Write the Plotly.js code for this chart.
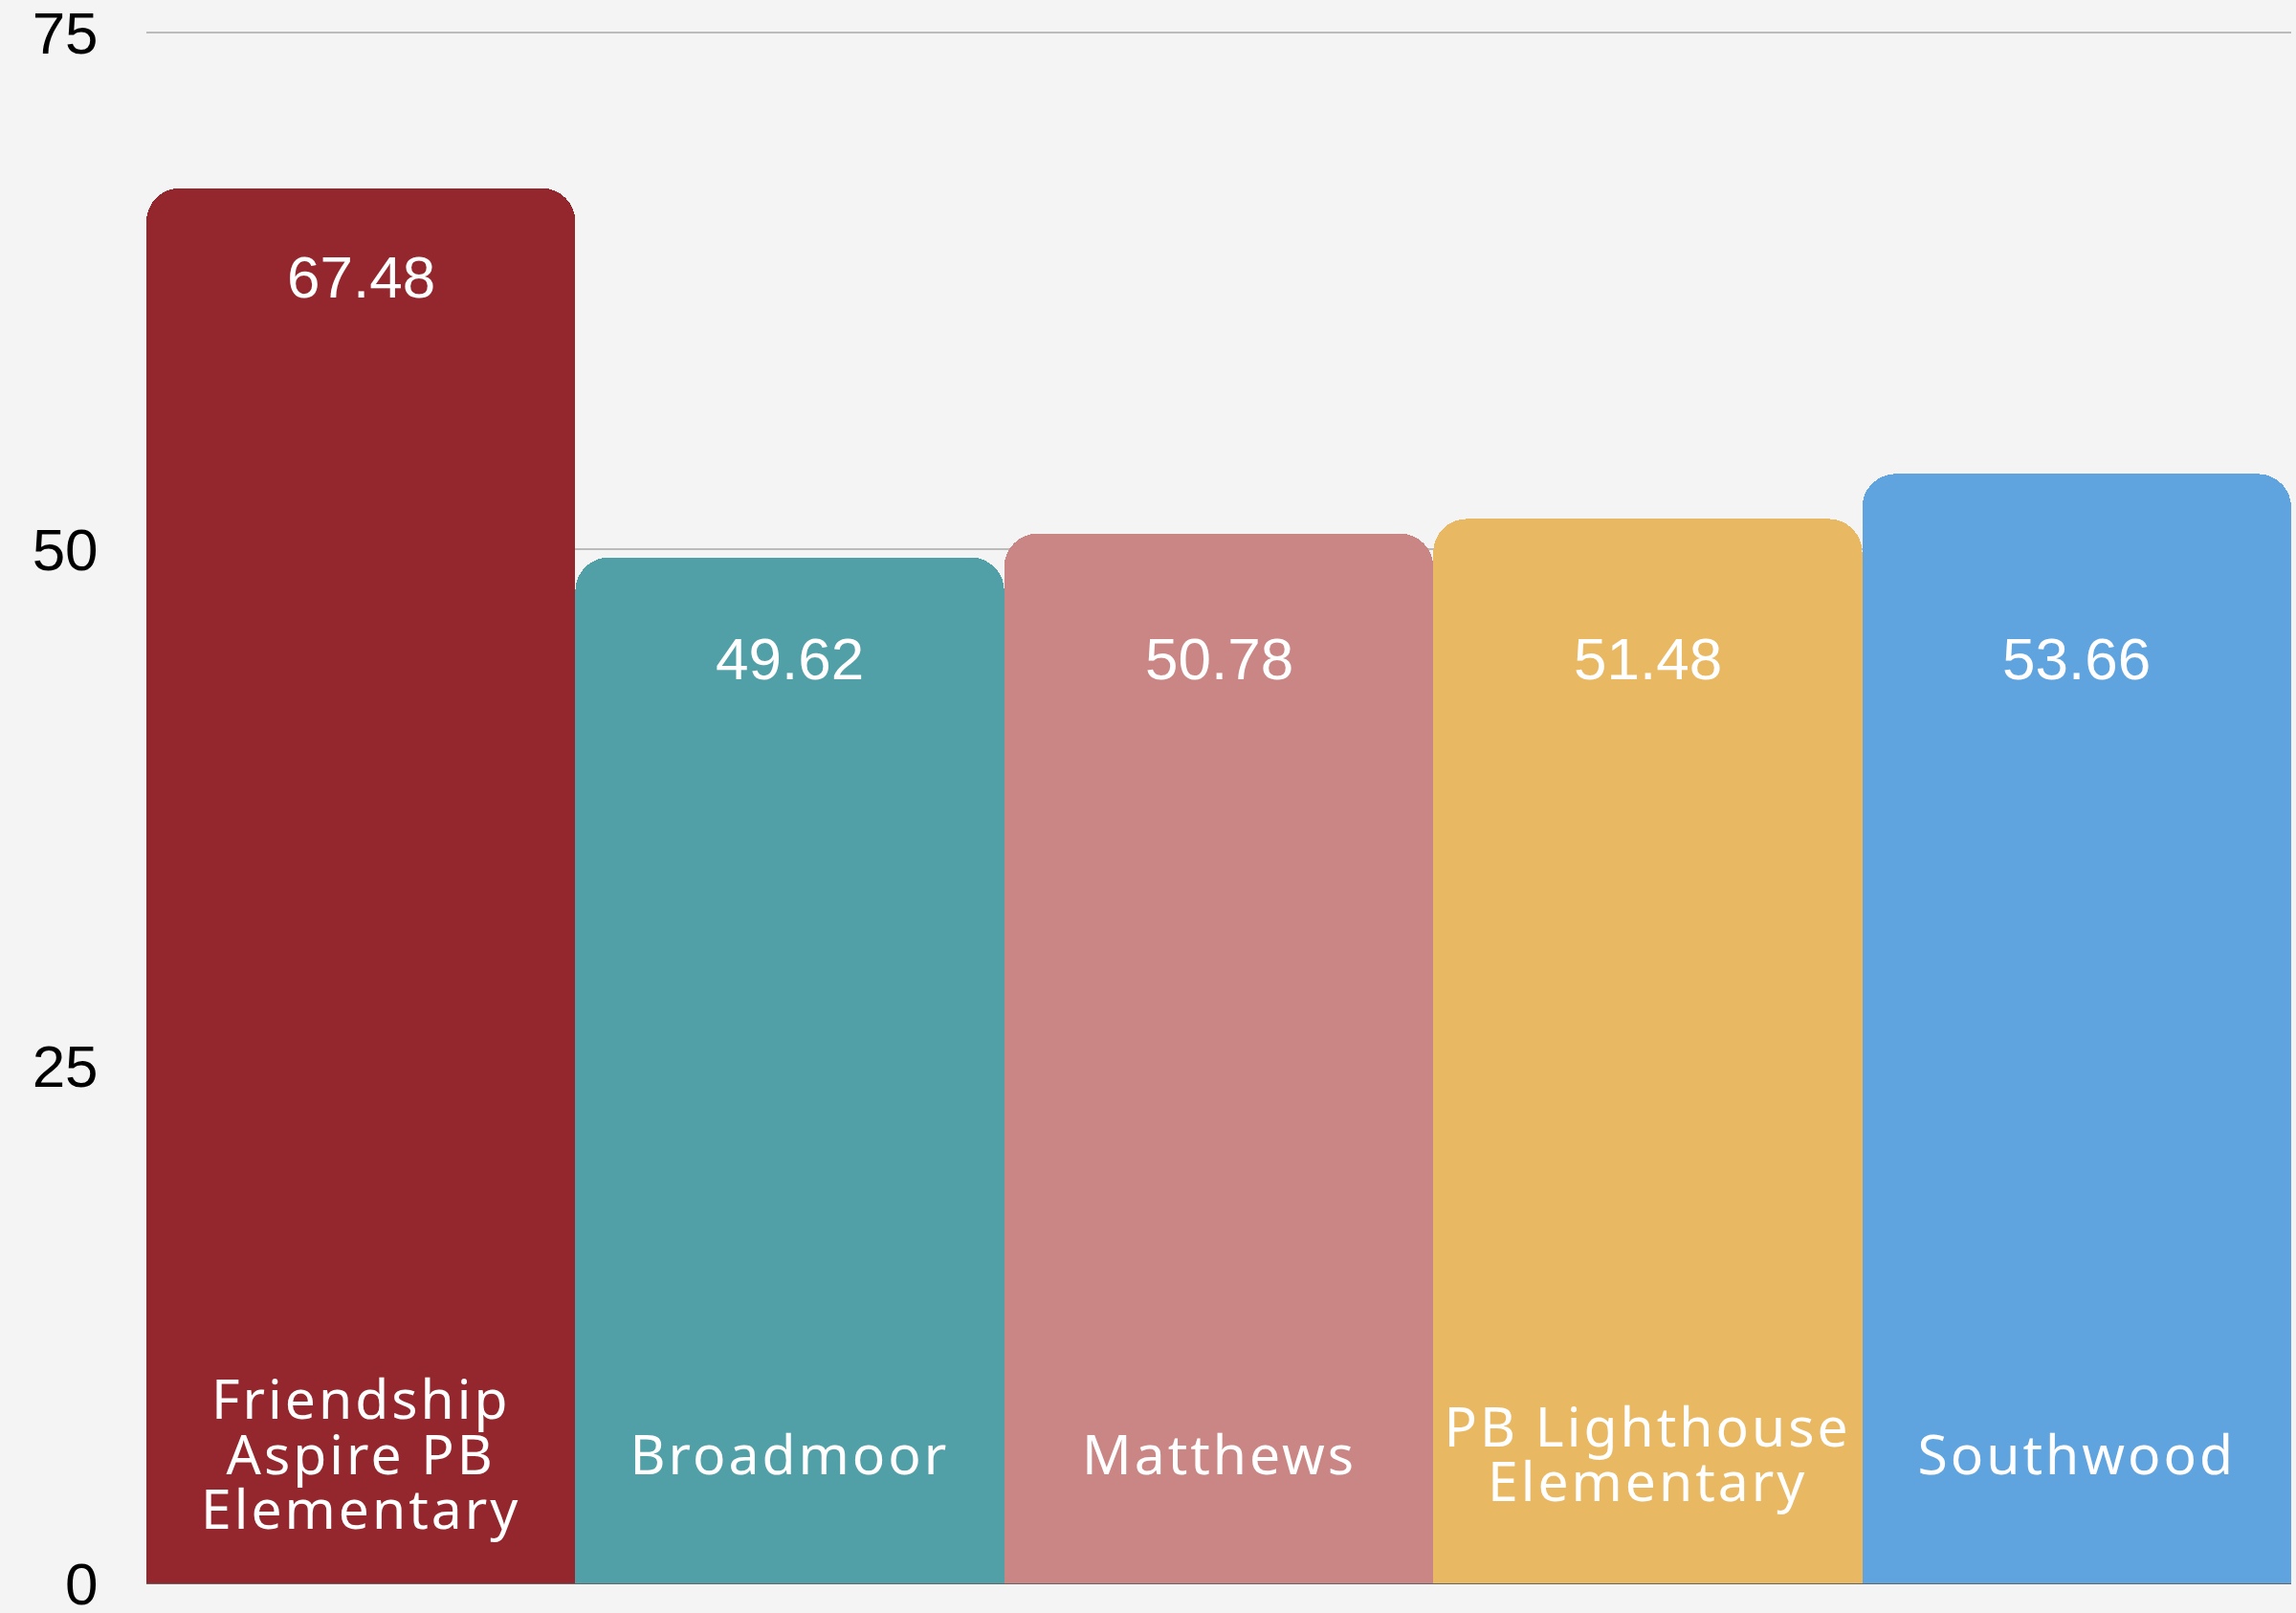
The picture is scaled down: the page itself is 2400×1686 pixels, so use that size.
<!DOCTYPE html>
<html>
<head>
<meta charset="utf-8">
<script src="https://cdn.plot.ly/plotly-3.0.1.min.js"></script>
<style>
  html, body { margin: 0; padding: 0; background: #f4f4f4; }
  #chart { width: 2400px; height: 1686px; }
</style>
</head>
<body>
<div id="chart"></div>
<script>
// ---- data ----
const schools = [
  "Friendship<br>Aspire PB<br>Elementary",
  "Broadmoor",
  "Matthews",
  "PB Lighthouse<br>Elementary",
  "Southwood"
];
const scores = [67.48, 49.62, 50.78, 51.48, 53.66];
const barColors = ["#93272d", "#519fa7", "#c98684", "#e8b862", "#5fa4df"];
const yTickValues = [0, 25, 50, 75];
const yTickLabels = ["0", "25", "50", "75"];

// ---- styling / layout rules ----
const valueFont = { family: "Liberation Sans, Arial, sans-serif", size: 62, color: "#ffffff" };
const catFont = { family: "Noto Sans, Inter, sans-serif", size: 57, color: "#ffffff" };
const catLineSpacing = 57.5;     // px between baselines of category label lines
const catCenterLevel = 6.3;      // data level where category label block is centred

const minScore = Math.min(...scores);
function valueLabelLevel(v) {
  // bars close to the shortest share one label row; taller bars get it near their top
  return (v - minScore > 10) ? v - 4.3 : minScore - 4.9;
}

const xIdx = schools.map((_, i) => i);

const annotations = [];
scores.forEach((v, i) => {
  annotations.push({
    x: i, y: valueLabelLevel(v),
    xref: "x", yref: "y",
    text: v.toFixed(2), showarrow: false,
    font: valueFont, xanchor: "center", yanchor: "middle"
  });
  const lines = schools[i].split("<br>");
  const n = lines.length;
  lines.forEach((ln, k) => {
    annotations.push({
      x: i, y: catCenterLevel, xref: "x", yref: "y",
      text: ln, showarrow: false, font: catFont,
      xanchor: "center", yanchor: "middle",
      yshift: ((n - 1) / 2 - k) * catLineSpacing
    });
  });
});

const trace = {
  type: "bar",
  x: xIdx,
  y: scores,
  marker: { color: barColors, line: { width: 0 } },
  hoverinfo: "none",
  textposition: "none"
};

const layout = {
  width: 2400, height: 1686,
  paper_bgcolor: "#f4f4f4",
  plot_bgcolor: "#f4f4f4",
  margin: { l: 153, r: 5, t: 32, b: 29 },
  bargap: 0,
  barcornerradius: 35,
  showlegend: false,
  xaxis: {
    range: [-0.5, 4.5],
    showticklabels: false,
    showgrid: false,
    zeroline: false,
    showline: false,
    ticks: "", fixedrange: true
  },
  yaxis: {
    range: [-0.1, 75.1],
    tickmode: "array",
    tickvals: yTickValues,
    ticktext: yTickLabels,
    tickfont: { family: "Liberation Sans, Arial, sans-serif", size: 62, color: "#000000" },
    ticklabeloverflow: "allow",
    showgrid: true, gridcolor: "#bbbbbb", gridwidth: 2,
    zeroline: true, zerolinecolor: "#666666", zerolinewidth: 3,
    showline: false,
    ticks: "outside", ticklen: 37, tickcolor: "rgba(0,0,0,0)", tickwidth: 1,
    fixedrange: true
  },
  annotations: annotations
};

Plotly.newPlot("chart", [trace], layout, { staticPlot: true, displayModeBar: false }).then(() => {
  // geometric category labels are a little more widely tracked than the values
  document.querySelectorAll("g.annotation text.annotation-text").forEach(t => {
    if (!/^\d/.test(t.textContent)) t.style.letterSpacing = "3px";
  });
});
</script>
</body>
</html>
